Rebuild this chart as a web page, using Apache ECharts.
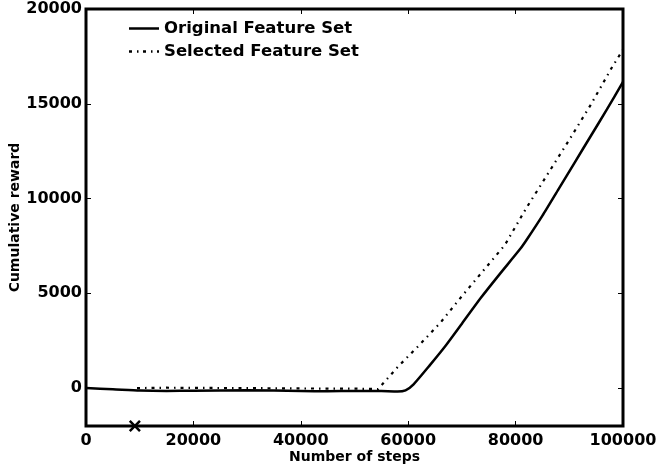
<!DOCTYPE html>
<html>
<head>
<meta charset="utf-8">
<script src="https://cdn.jsdelivr.net/npm/echarts@6/dist/echarts.min.js"></script>
<style>
  html, body { margin: 0; padding: 0; background: #fff; }
  #chart { width: 659px; height: 468px; }
</style>
</head>
<body>
<div id="chart"></div>
<script>
// data
const originalSteps = [0, 5000, 10000, 15000, 20000, 30000, 40000, 45000, 50000, 55000, 58000, 59500, 61000, 64000, 67000, 70000, 73500, 77000, 80800, 82000, 85000, 88000, 91000, 94000, 97000, 100000];
const originalReward = [0, -60, -130, -150, -140, -120, -150, -170, -150, -160, -180, -120, 200, 1200, 2250, 3400, 4750, 6000, 7320, 7800, 9100, 10500, 11900, 13300, 14700, 16150];

const selectedSteps = [9500, 15000, 20000, 30000, 40000, 50000, 54400, 58000, 62000, 66000, 70000, 74000, 78000, 82000, 86000, 90000, 94000, 98000, 100000];
const selectedReward = [0, 20, 10, 0, -20, -30, -50, 1100, 2250, 3450, 4850, 6200, 7550, 9500, 11300, 13100, 14950, 16950, 17850];

const markerPoint = [9100, -2000];

const yTicks = [0, 5000, 10000, 15000, 20000];

const zip = (xs, ys) => xs.map((x, i) => [x, ys[i]]);

const font = 'DejaVu Sans';
const chart = echarts.init(document.getElementById('chart'));

const tickStyle = { show: true, inside: true, length: 5, lineStyle: { color: '#000', width: 1 } };
const plain = v => String(v);

chart.setOption({
  backgroundColor: '#ffffff',
  animation: false,
  grid: {
    left: 86, right: 36, top: 9, bottom: 42,
    outerBoundsMode: 'none',
    containLabel: false,
    show: true, borderColor: '#000', borderWidth: 3
  },
  legend: {
    orient: 'vertical',
    left: 124, top: 15,
    itemWidth: 30, itemHeight: 3, itemGap: 6,
    data: [
      { name: 'Original Feature Set', icon: 'path://M0,0H30V2.5H0Z' },
      { name: 'Selected Feature Set', icon: 'path://M0,0H3V2.5H0Z M8,0H9.5V2.5H8Z M14,0H17V2.5H14Z M22,0H23.5V2.5H22Z M28,0H30V2.5H28Z' }
    ],
    itemStyle: { color: '#000' },
    textStyle: { fontFamily: font, fontWeight: 'bold', fontSize: 16.5, color: '#000' }
  },
  xAxis: [{
    type: 'value', min: 0, max: 100000, interval: 20000,
    name: 'Number of steps', nameLocation: 'middle', nameGap: 24,
    nameMoveOverlap: false,
    nameTextStyle: { fontFamily: font, fontWeight: 'bold', fontSize: 14, color: '#000' },
    axisLine: { show: false, onZero: false },
    axisTick: tickStyle,
    splitLine: { show: false },
    axisLabel: { fontFamily: font, fontWeight: 'bold', fontSize: 16, color: '#000', margin: 7,
      formatter: plain }
  }, {
    type: 'value', min: 0, max: 100000, interval: 20000, position: 'top',
    axisLine: { show: false, onZero: false }, axisTick: tickStyle, axisLabel: { show: false }, splitLine: { show: false }
  }],
  yAxis: [{
    type: 'value', min: -2000, max: 20000,
    name: 'Cumulative reward', nameLocation: 'middle', nameGap: 64,
    nameMoveOverlap: false,
    nameTextStyle: { fontFamily: font, fontWeight: 'bold', fontSize: 14, color: '#000' },
    axisLine: { show: false, onZero: false },
    axisTick: Object.assign({ customValues: yTicks }, tickStyle),
    splitLine: { show: false },
    axisLabel: { fontFamily: font, fontWeight: 'bold', fontSize: 16, color: '#000', margin: 4,
      customValues: yTicks, formatter: plain }
  }, {
    type: 'value', min: -2000, max: 20000, position: 'right',
    axisLine: { show: false, onZero: false },
    axisTick: Object.assign({ customValues: yTicks }, tickStyle),
    axisLabel: { show: false }, splitLine: { show: false }
  }],
  series: [{
    name: 'Original Feature Set',
    type: 'line',
    showSymbol: false,
    symbol: 'none',
    smooth: 0.2,
    color: '#000',
    lineStyle: { color: '#000', width: 2.5 },
    data: zip(originalSteps, originalReward),
    z: 3
  }, {
    name: 'Selected Feature Set',
    type: 'line',
    showSymbol: false,
    symbol: 'none',
    color: '#000',
    lineStyle: { color: '#000', width: 2.2, type: [3, 5, 1.5, 5] },
    data: zip(selectedSteps, selectedReward),
    z: 2
  }, {
    name: 'marker',
    type: 'scatter',
    symbol: 'path://M0,1.5L1.5,0L5,3.5L8.5,0L10,1.5L6.5,5L10,8.5L8.5,10L5,6.5L1.5,10L0,8.5L3.5,5Z',
    symbolSize: 12,
    clip: false,
    itemStyle: { color: '#000', opacity: 1 },
    data: [markerPoint],
    z: 5
  }]
});
</script>
</body>
</html>
